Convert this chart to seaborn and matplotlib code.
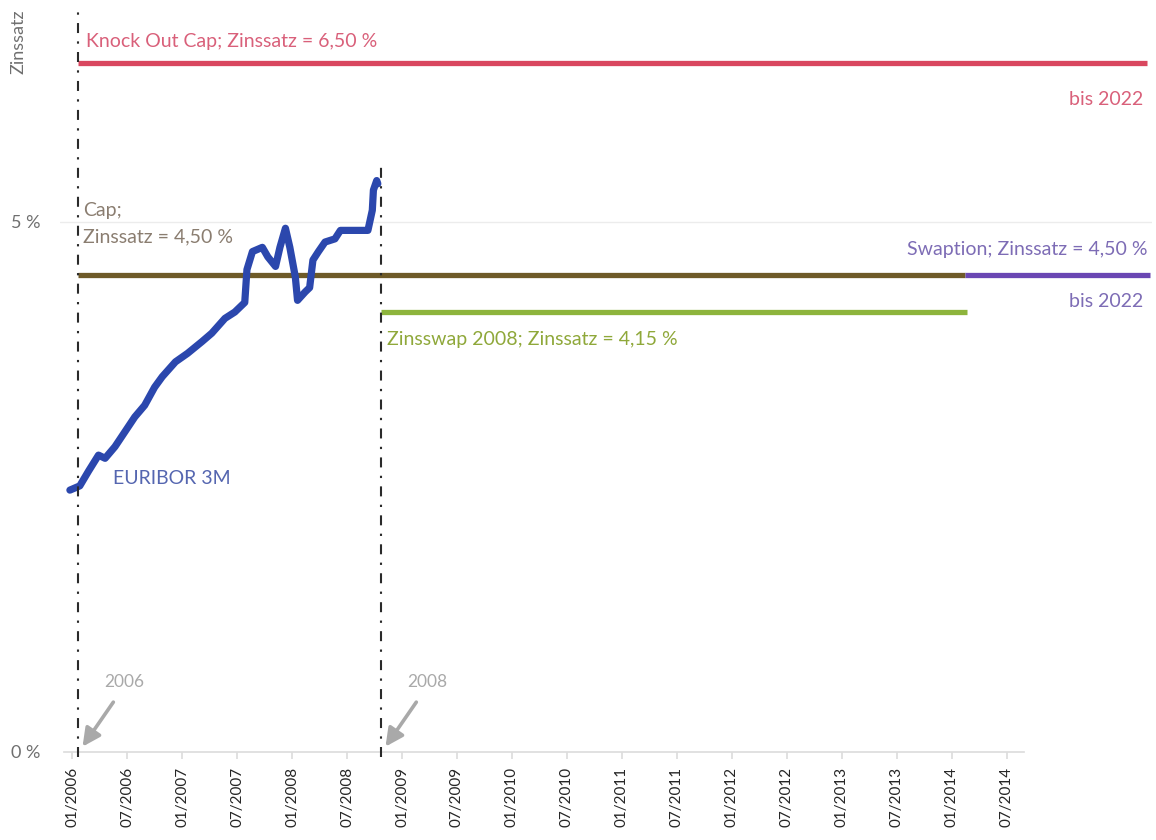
import matplotlib
matplotlib.use("Agg")
import matplotlib.pyplot as plt
import seaborn as sns
import pandas as pd
import numpy as np

# ---------------- data ----------------
euribor_t = [2005.98, 2006.07, 2006.15, 2006.24, 2006.30, 2006.39, 2006.48, 2006.57,
             2006.66, 2006.75, 2006.82, 2006.94, 2007.05, 2007.18, 2007.27, 2007.39,
             2007.48, 2007.57, 2007.59, 2007.64, 2007.73, 2007.78, 2007.85, 2007.89,
             2007.94, 2007.98, 2008.03, 2008.05, 2008.12, 2008.16, 2008.19, 2008.24,
             2008.30, 2008.39, 2008.44, 2008.55, 2008.69, 2008.73, 2008.74, 2008.77,
             2008.78]
euribor_v = [2.47, 2.51, 2.65, 2.80, 2.77, 2.88, 3.02, 3.16,
             3.27, 3.44, 3.54, 3.68, 3.76, 3.87, 3.95, 4.09,
             4.15, 4.24, 4.55, 4.72, 4.76, 4.67, 4.58, 4.76,
             4.94, 4.76, 4.48, 4.26, 4.34, 4.38, 4.64, 4.72,
             4.81, 4.84, 4.92, 4.92, 4.92, 5.11, 5.30, 5.39,
             5.36]

segment_names = ["Knock Out Cap", "Cap", "Swaption", "Zinsswap 2008"]
segment_start = [2006.055, 2006.055, 2014.12, 2008.81]
segment_end = [2015.77, 2014.12, 2015.80, 2014.14]
segment_rate = [6.50, 4.50, 4.50, 4.15]
segment_colors = ["#d9475f", "#6e5a28", "#6a47b3", "#8db43c"]

marker_years = ["2006", "2008"]
marker_t = [2006.055, 2008.81]
marker_top = [6.98, 5.58]

tick_positions = [2006.0 + 0.5 * i for i in range(18)]
tick_labels = [f"{'01' if i % 2 == 0 else '07'}/{2006 + i // 2}" for i in range(18)]
y_ticks = [0, 5]
y_tick_labels = ["0 %", "5 %"]

# ---------------- figure ----------------
sns.set_theme(style="white")
plt.rcParams["font.family"] = ["Lato", "DejaVu Sans"]

fig = plt.figure(figsize=(11.56, 8.4), dpi=100)
ax = fig.add_axes([60 / 1156, 1 - 758 / 840, (1152 - 60) / 1156, (758 - 12) / 840])

x0, x1 = 2005.89, 2015.82
ax.set_xlim(x0, x1)
ax.set_ylim(-0.057, 6.98)

# gridline at 5 %
ax.axhline(y_ticks[1], color="#ececec", lw=1.0, zorder=0)

# horizontal instrument lines
for name, s, e, r, c in zip(segment_names, segment_start, segment_end, segment_rate, segment_colors):
    df = pd.DataFrame({"t": [s, e], "v": [r, r]})
    sns.lineplot(data=df, x="t", y="v", ax=ax, color=c, lw=3.8,
                 solid_capstyle="butt", zorder=3)

# EURIBOR line
df_e = pd.DataFrame({"t": euribor_t, "v": euribor_v})
sns.lineplot(data=df_e, x="t", y="v", ax=ax, color="#2b47ad", lw=5.2,
             sort=False, solid_capstyle="round", solid_joinstyle="round", zorder=4)

# vertical dash-dot markers
for t, top in zip(marker_t, marker_top):
    ax.vlines(t, -0.05, top, colors="#2a2a2a", lw=1.5,
              linestyles=[(0, (4.8, 4.0, 1.1, 4.0))], zorder=5)

# year arrows
gray = "#a9a9a9"
for yr, t in zip(marker_years, marker_t):
    ax.text(t + 0.42, 0.66, yr, color=gray, fontsize=12.5, ha="center", va="center")
    ax.annotate("", xy=(t + 0.04, 0.05), xytext=(t + 0.32, 0.47),
                arrowprops=dict(arrowstyle="-|>,head_length=0.9,head_width=0.45",
                                color=gray, lw=2.6, shrinkA=0, shrinkB=0))

# labels
fs = 14
ax.text(2006.13, 6.70, "Knock Out Cap; Zinssatz = 6,50 %", color="#d9607a",
        fontsize=fs, ha="left", va="center")
ax.text(2015.74, 6.15, "bis 2022", color="#d9607a", fontsize=fs, ha="right", va="center")
ax.text(2006.10, 5.11, "Cap;", color="#8a7d70", fontsize=fs, ha="left", va="center")
ax.text(2006.10, 4.86, "Zinssatz = 4,50 %", color="#8a7d70", fontsize=fs, ha="left", va="center")
ax.text(2015.78, 4.74, "Swaption; Zinssatz = 4,50 %", color="#7d6cb5", fontsize=fs,
        ha="right", va="center")
ax.text(2015.74, 4.25, "bis 2022", color="#7d6cb5", fontsize=fs, ha="right", va="center")
ax.text(2008.86, 3.89, "Zinsswap 2008; Zinssatz = 4,15 %", color="#8fa83a", fontsize=fs,
        ha="left", va="center")
ax.text(2006.37, 2.58, "EURIBOR 3M", color="#5566b0", fontsize=fs, ha="left", va="center")

# axes styling
ax.set_xticks(tick_positions)
ax.set_xticklabels(tick_labels, color="#6f6f6f", fontsize=14)
ax.tick_params(axis="x", length=5, color="#dddddd", pad=6, bottom=True, labelrotation=90)
ax.set_yticks(y_ticks)
ax.set_yticklabels(y_tick_labels, color="#6f6f6f", fontsize=13)
ax.tick_params(axis="y", length=0, pad=14)
ax.set_xlabel("")
ax.set_ylabel("Zinssatz", color="#6f6f6f", fontsize=13)
ax.yaxis.set_label_coords((18 - 60) / 1092, (758 - 42) / 746)
ax.yaxis.label.set_va("center")
ax.yaxis.label.set_ha("center")

for sp in ["top", "right", "left"]:
    ax.spines[sp].set_visible(False)
ax.spines["bottom"].set_color("#dddddd")
ax.spines["bottom"].set_bounds(x0 + 0.04, 2014.66)
ax.spines["bottom"].set_position(("data", 0))
ax.set_facecolor("white")

fig.savefig("out.png", dpi=100, facecolor="white")
